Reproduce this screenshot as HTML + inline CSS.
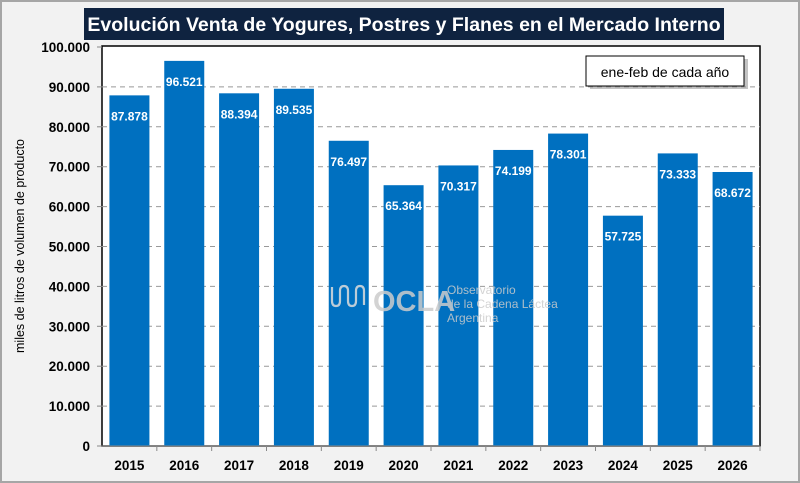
<!DOCTYPE html>
<html><head><meta charset="utf-8"><style>
body{margin:0;background:#fff}
svg{display:block;font-family:"Liberation Sans",sans-serif}
</style></head><body>
<svg width="800" height="483" viewBox="0 0 800 483">
<rect x="1" y="1" width="798" height="481" fill="#f2f2f2" stroke="#a6a6a6" stroke-width="2"/>
<rect x="84" y="8" width="640" height="32" fill="#0f2340"/>
<text x="404" y="31" text-anchor="middle" fill="#fff" font-size="19.5" font-weight="bold">Evolución Venta de Yogures, Postres y Flanes en el Mercado Interno</text>
<rect x="102" y="46" width="658" height="400" fill="#fff" stroke="#000" stroke-width="1.5"/>
<g id="grid"></g>
<g id="bars"></g>
<g id="axes"></g>
<g opacity="0.85">
<path d="M332 287 v14 q0 5 4 5 q4 0 4 -5 v-10 q0 -5 4 -5 q4 0 4 5 v10 q0 5 4 5 q4 0 4 -5 v-10 q0 -5 4 -5 q4 0 4 5 v14" fill="none" stroke="#ddd" stroke-width="2.2"/>
<text x="373" y="311" fill="#ccc" font-size="29" font-weight="bold">OCLA</text>
<text x="447" y="294" fill="#ccc" font-size="12">Observatorio</text>
<text x="447" y="308" fill="#ccc" font-size="12">de la Cadena Láctea</text>
<text x="447" y="322" fill="#ccc" font-size="12">Argentina</text>
</g>
<rect x="590" y="59" width="158" height="30" fill="#888" opacity="0.5"/>
<rect x="586" y="56" width="158" height="30" fill="#fff" stroke="#000" stroke-width="1"/>
<text x="665" y="77" text-anchor="middle" font-size="14" fill="#000">ene-feb de cada año</text>
<text transform="translate(24,246) rotate(-90)" text-anchor="middle" font-size="12.5" fill="#000">miles de litros de volumen de producto</text>
</svg>
<script>
const categories=["2015","2016","2017","2018","2019","2020","2021","2022","2023","2024","2025","2026"];
const values=[87878,96521,88394,89535,76497,65364,70317,74199,78301,57725,73333,68672];
const valueLabels=["87.878","96.521","88.394","89.535","76.497","65.364","70.317","74.199","78.301","57.725","73.333","68.672"];
const yTicks=[0,10000,20000,30000,40000,50000,60000,70000,80000,90000,100000];
const yTickLabels=["0","10.000","20.000","30.000","40.000","50.000","60.000","70.000","80.000","90.000","100.000"];
const NS="http://www.w3.org/2000/svg";
const L=102,R=760,T=47,B=446,yMax=100000;
const band=(R-L)/categories.length;
const y=v=>B-(v/yMax)*(B-T);
const x=i=>L+i*band;
function mk(tag,attrs,parent){const e=document.createElementNS(NS,tag);for(const k in attrs)e.setAttribute(k,attrs[k]);parent.appendChild(e);return e;}
const grid=document.getElementById('grid'),bars=document.getElementById('bars'),axes=document.getElementById('axes');
yTicks.forEach((t,i)=>{
  if(t>0&&t<yMax){const g=mk('line',{x1:L,x2:R,y1:y(t),y2:y(t),stroke:'#999','stroke-dasharray':'5,4','stroke-width':1},grid);
  
  }
  const tk=mk('line',{x1:L-5,x2:L,y1:y(t),y2:y(t),stroke:'#888'},axes);
  
  
  const lb=mk('text',{x:L-12,y:y(t)+5,'text-anchor':'end','font-size':13.5,'font-weight':'bold',fill:'#000'},axes);
  lb.textContent=yTickLabels[i];
  
  
});
const bw=40;
categories.forEach((c,i)=>{
  const cx=x(i)+band/2;
  const r=mk('rect',{x:cx-bw/2,y:y(values[i]),width:bw,height:B-y(values[i]),fill:'#0070c0'},bars);
  
  
  const t=mk('text',{x:cx,y:y(values[i])+25,'text-anchor':'middle','font-size':12,'font-weight':'bold',fill:'#fff'},bars);
  t.textContent=valueLabels[i];
  
  
  const tk=mk('line',{x1:x(i+1),x2:x(i+1),y1:B,y2:B+5,stroke:'#888'},axes);
  
  
  const lb=mk('text',{x:cx,y:B+24,'text-anchor':'middle','font-size':13.5,'font-weight':'bold',fill:'#000'},axes);
  lb.textContent=c;
  
  
});
const xa=mk('line',{x1:L-5,x2:R,y1:B,y2:B,stroke:'#888'},axes);


</script>
</body></html>
